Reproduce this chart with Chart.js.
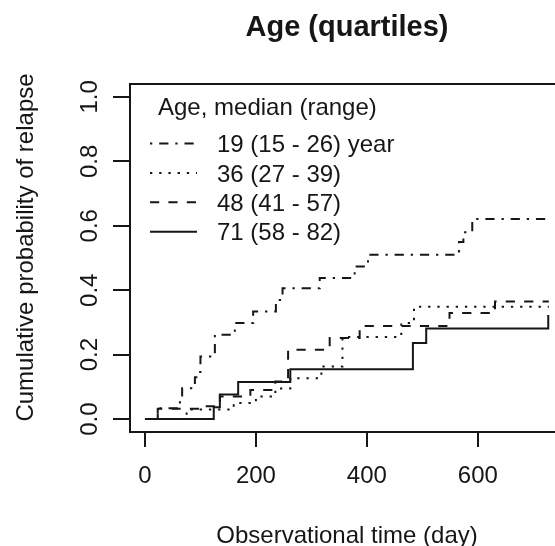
<!DOCTYPE html>
<html><head><meta charset="utf-8">
<script src="https://cdn.jsdelivr.net/npm/chart.js@4.4.0/dist/chart.umd.min.js"></script>
<style>
html,body{margin:0;padding:0;background:#fff;overflow:hidden}
#wrap{width:555px;height:546px;overflow:hidden;position:relative}
canvas{display:block}
</style></head><body>
<div id="wrap"><canvas id="c" width="580" height="546"></canvas></div>
<script>
const chartTitle = 'Age (quartiles)';
const xTitle = 'Observational time (day)';
const yTitle = 'Cumulative probability of relapse';
const legendTitle = 'Age, median (range)';
const groupLabels = ['19 (15 - 26) year', '36 (27 - 39)', '48 (41 - 57)', '71 (58 - 82)'];
const xTicks = [0, 200, 400, 600];
const yTicks = [0, 0.2, 0.4, 0.6, 0.8, 1.0];

const days19 = [0, 23, 63, 67, 90, 95, 100, 126, 162, 195, 236, 248, 315, 378, 402, 566, 574, 590, 730];
const prob19 = [0, 0.034, 0.065, 0.096, 0.13, 0.146, 0.194, 0.262, 0.298, 0.334, 0.37, 0.406, 0.438, 0.474, 0.51, 0.55, 0.58, 0.621, 0.621];
const days36 = [0, 75, 160, 200, 235, 262, 318, 356, 462, 485, 728];
const prob36 = [0, 0.03, 0.05, 0.07, 0.095, 0.127, 0.163, 0.255, 0.298, 0.349, 0.349];
const days48 = [0, 23, 100, 135, 190, 235, 258, 333, 387, 549, 631, 728];
const prob48 = [0, 0.032, 0.04, 0.07, 0.09, 0.117, 0.215, 0.252, 0.289, 0.329, 0.365, 0.365];
const days71 = [0, 124, 135, 168, 262, 483, 507, 727];
const prob71 = [0, 0.037, 0.076, 0.115, 0.155, 0.236, 0.281, 0.323];

const ink = '#161616';
const FONT = '"Liberation Sans", Arial, Helvetica, sans-serif';
const U = 2.3;
const dashes = [[U, 3*U, 4*U, 3*U], [U, 3*U], [4*U, 4*U], []];

function pts(d, p) { return d.map((x, i) => ({x: x, y: p[i]})); }
const series = [pts(days19, prob19), pts(days36, prob36), pts(days48, prob48), pts(days71, prob71)];

Chart.defaults.font.family = FONT;
Chart.defaults.font.size = 24;
Chart.defaults.color = ink;

const rPlot = {
  id: 'rPlot',
  afterDraw(chart) {
    const ctx = chart.ctx, a = chart.chartArea;
    ctx.save();
    ctx.strokeStyle = ink; ctx.fillStyle = ink;
    ctx.lineWidth = 2; ctx.setLineDash([]);
    ctx.strokeRect(a.left, a.top, a.right - a.left, a.bottom - a.top);
    ctx.font = '24px ' + FONT;
    ctx.textAlign = 'center'; ctx.textBaseline = 'alphabetic';
    const ys = chart.scales.y;
    yTicks.forEach(v => {
      const py = ys.getPixelForValue(v);
      ctx.save(); ctx.translate(97, py); ctx.rotate(-Math.PI / 2);
      ctx.fillText(v.toFixed(1), 0, 0); ctx.restore();
    });
    ctx.save(); ctx.translate(32.5, 247.5); ctx.rotate(-Math.PI / 2);
    ctx.fillText(yTitle, 0, 0); ctx.restore();
    ctx.fillText(xTitle, 347, 543);
    ctx.font = 'bold 29px ' + FONT;
    ctx.fillText(chartTitle, 347, 35.5);
    // legend
    ctx.font = '24px ' + FONT;
    ctx.textAlign = 'left';
    ctx.fillText(legendTitle, 158, 114.6);
    groupLabels.forEach((lab, i) => {
      const cy = 143.5 + i * 29.4;
      ctx.setLineDash(dashes[i]); ctx.lineDashOffset = 0;
      ctx.beginPath(); ctx.moveTo(150, cy); ctx.lineTo(197, cy); ctx.stroke();
      ctx.setLineDash([]);
      ctx.fillText(lab, 217, cy + 8.6);
    });
    ctx.restore();
  }
};

new Chart(document.getElementById('c'), {
  type: 'line',
  data: {
    datasets: series.map((s, i) => ({
      label: groupLabels[i],
      data: s,
      stepped: 'before',
      borderColor: ink,
      borderWidth: 2,
      borderDash: dashes[i],
      borderCapStyle: 'butt',
      pointRadius: 0,
      fill: false
    }))
  },
  options: {
    responsive: false,
    animation: false,
    devicePixelRatio: 1,
    layout: {padding: {left: 0, top: 84, right: 14, bottom: 0}},
    plugins: {legend: {display: false}, title: {display: false}, tooltip: {enabled: false}},
    scales: {
      x: {
        type: 'linear', min: -27, max: 759,
        afterBuildTicks: s => { s.ticks = xTicks.map(v => ({value: v})); },
        afterFit: s => { s.height = 114; },
        grid: {drawOnChartArea: false, drawTicks: true, tickLength: 15, color: ink, lineWidth: 2},
        border: {display: false},
        ticks: {color: ink, font: {size: 24}, padding: 15, autoSkip: false, maxRotation: 0, minRotation: 0, callback: v => String(v)}
      },
      y: {
        type: 'linear', min: -0.04, max: 1.04,
        afterBuildTicks: s => { s.ticks = yTicks.map(v => ({value: v})); },
        afterFit: s => { s.width = 130; },
        grid: {drawOnChartArea: false, drawTicks: true, tickLength: 17, color: ink, lineWidth: 2},
        border: {display: false},
        ticks: {display: false}
      }
    }
  },
  plugins: [rPlot]
});
</script>
</body></html>
